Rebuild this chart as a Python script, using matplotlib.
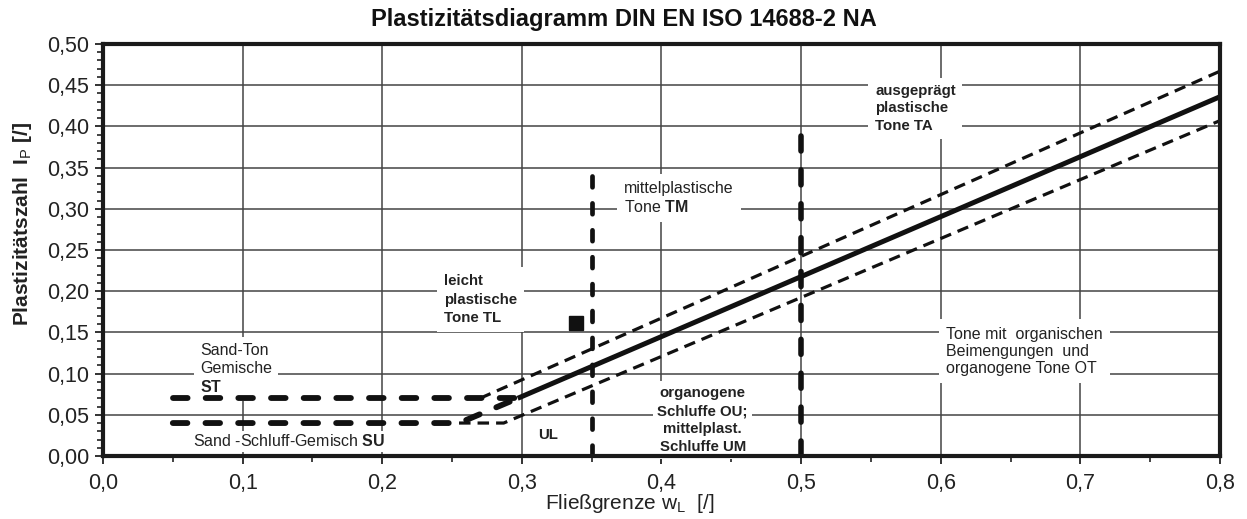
import matplotlib
matplotlib.use("Agg")
import matplotlib.pyplot as plt
from matplotlib.ticker import MultipleLocator, FuncFormatter

plt.rcParams['font.family'] = ['Liberation Sans', 'DejaVu Sans']
plt.rcParams['mathtext.fontset'] = 'custom'
plt.rcParams['mathtext.rm'] = 'Liberation Sans'
plt.rcParams['mathtext.it'] = 'Liberation Sans'
plt.rcParams['mathtext.bf'] = 'Liberation Sans:bold'

# ---- data ----
a_line_x = [0.297, 0.80]
a_line_y = [0.070, 0.436]
upper_x = [0.270, 0.80]
upper_y = [0.070, 0.467]
lower_x = [0.255, 0.287, 0.80]
lower_y = [0.040, 0.040, 0.407]
st_x = [0.05, 0.297]
st_y = [0.07, 0.07]
su_x = [0.05, 0.255, 0.297]
su_y = [0.04, 0.04, 0.070]
v35_x = [0.35, 0.35]
v35_y = [0.0, 0.355]
v50_x = [0.50, 0.50]
v50_y = [0.0, 0.400]
point_x = [0.339]
point_y = [0.161]

fig = plt.figure(figsize=(12.47, 5.19), dpi=100)
ax = fig.add_axes([0.0826, 0.1214, 0.8957, 0.7938])
ax.set_xlim(0, 0.8)
ax.set_ylim(0, 0.5)

ax.xaxis.set_major_locator(MultipleLocator(0.1))
ax.xaxis.set_minor_locator(MultipleLocator(0.05))
ax.yaxis.set_major_locator(MultipleLocator(0.05))
ax.yaxis.set_minor_locator(MultipleLocator(0.01))
ax.xaxis.set_major_formatter(FuncFormatter(lambda v, p: f"{v:.1f}".replace('.', ',')))
ax.yaxis.set_major_formatter(FuncFormatter(lambda v, p: f"{v:.2f}".replace('.', ',')))
ax.tick_params(axis='both', which='major', labelsize=15.5, length=6, width=1.3, direction='out',
               colors='#222222', labelcolor='#222222')
ax.tick_params(axis='both', which='minor', length=4, width=1.2, direction='out', colors='#222222')
ax.tick_params(axis='x', pad=6)
ax.tick_params(axis='y', pad=4)

ax.grid(True, which='major', color='#444444', linewidth=1.1, zorder=0.5)
ax.set_axisbelow(True)
for s in ax.spines.values():
    s.set_linewidth(3.0)
    s.set_color('#1a1a1a')
    s.set_zorder(5)

# lines
ax.plot(upper_x, upper_y, color='#111111', lw=2.3, dashes=(3.6, 2.2), zorder=3)
ax.plot(lower_x, lower_y, color='#111111', lw=2.3, dashes=(3.6, 2.2), zorder=3)
ax.plot(a_line_x, a_line_y, color='#111111', lw=3.6, solid_capstyle='butt', zorder=4)
ax.plot(st_x, st_y, color='#111111', lw=4.2, dashes=(2.5, 3.1), dash_capstyle='round', zorder=4)
ax.plot(su_x, su_y, color='#111111', lw=4.2, dashes=(2.5, 3.1), dash_capstyle='round', zorder=4)
ax.plot(v35_x, v35_y, color='#111111', lw=3.4, dashes=(2.3, 3.4), dash_capstyle='round', zorder=4)
ax.plot(v50_x, v50_y, color='#111111', lw=4.0, dashes=(2.7, 3.4), dash_capstyle='round', zorder=4)
ax.plot(point_x, point_y, marker='s', color='#111111', markersize=10, linestyle='none', zorder=5)

def wbox(pad=0.45):
    return dict(facecolor='white', edgecolor='none', boxstyle=f'square,pad={pad}')

fs = 11.5
fsb = 10.8
tc = '#222222'
ax.text(0.0695, 0.137, "Sand-Ton\nGemische\n$\\mathbf{ST}$", fontsize=fs, color=tc, va='top', ha='left',
        linespacing=1.22, bbox=wbox(0.4), zorder=2)
ax.text(0.0645, 0.018, "Sand -Schluff-Gemisch $\\mathbf{SU}$", fontsize=fs, color=tc, va='center', ha='left',
        bbox=wbox(0.15), zorder=2)
ax.text(0.244, 0.221, "leicht\nplastische\nTone TL", fontsize=fsb, color=tc, va='top', ha='left',
        linespacing=1.42, fontweight='bold', bbox=wbox(0.45), zorder=2)
ax.text(0.373, 0.334, "mittelplastische\nTone $\\mathbf{TM}$", fontsize=fs, color=tc, va='top', ha='left',
        linespacing=1.22, bbox=wbox(0.45), zorder=2)
ax.text(0.553, 0.451, "ausgeprägt\nplastische\nTone TA", fontsize=fsb, color=tc, va='top', ha='left',
        linespacing=1.28, fontweight='bold', bbox=wbox(0.45), zorder=2)
ax.text(0.3185, 0.026, "UL", fontsize=fsb, color=tc, va='center', ha='center', fontweight='bold', zorder=2)
ax.text(0.4295, 0.0435, "organogene\nSchluffe OU;\nmittelplast.\nSchluffe UM", fontsize=fsb, color=tc,
        va='center', ha='center', linespacing=1.38, fontweight='bold', bbox=wbox(0.3), zorder=2)
ax.text(0.604, 0.157, "Tone mit  organischen\nBeimengungen  und\norganogene Tone OT", fontsize=fs, color=tc,
        va='top', ha='left', linespacing=1.18, bbox=wbox(0.45), zorder=2)

fig.text(0.5, 0.962, "Plastizitätsdiagramm DIN EN ISO 14688-2 NA", fontsize=17, fontweight='bold',
         ha='center', va='center', color='#111111')
ax.set_xlabel("Fließgrenze w$_\\mathrm{L}$  [/]", fontsize=15, color='#222222')
ax.xaxis.set_label_coords(0.472, -0.115)
ax.xaxis.label.set_va('center')
ax.set_ylabel("Plastizitätszahl  I$_\\mathrm{P}$ [/]", fontsize=15, color='#222222', fontweight='bold')
ax.yaxis.set_label_coords(-0.0725, 0.563)
ax.yaxis.label.set_va('center')

fig.savefig("out.png", dpi=100)
